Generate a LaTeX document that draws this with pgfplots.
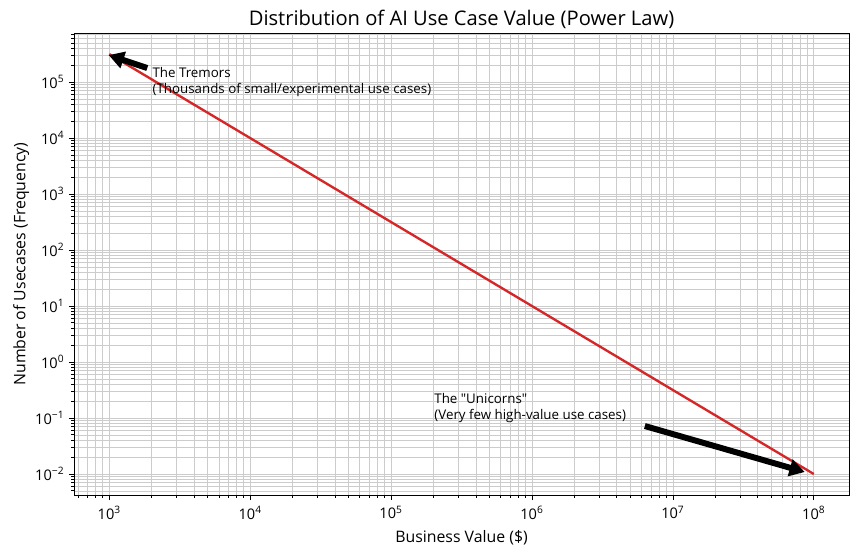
\documentclass[border=0pt]{standalone}
\usepackage{fontspec}
\setmainfont{Open Sans}[Ligatures=TeXOff]
\usepackage{pgfplots}
\pgfplotsset{compat=1.18}
\usetikzlibrary{arrows.meta}
\newcommand{\mn}{\char"2212\relax}
\newcommand{\tk}[1]{10\textsuperscript{#1}}
\begin{document}
\begin{tikzpicture}
\useasboundingbox (-53.3pt,-43.9pt) rectangle (564.46pt,356.42pt);
\begin{axis}[
  at={(0pt,0pt)}, anchor=south west,
  scale only axis, width=558pt, height=332.6pt,
  xmode=log, ymode=log,
  xmin=562.3, xmax=1.778e8,
  ymin=4.217e-3, ymax=7.499e5,
  axis line style={black, line width=0.6pt},
  tick align=outside, tick pos=left,
  major tick length=3.5pt, minor tick length=2pt,
  every tick/.style={black, line width=0.6pt},
  xtick={1e3,1e4,1e5,1e6,1e7,1e8},
  xticklabels={\tk{3},\tk{4},\tk{5},\tk{6},\tk{7},\tk{8}},
  ytick={1e-2,1e-1,1,1e1,1e2,1e3,1e4,1e5},
  yticklabels={\tk{\mn2},\tk{\mn1},\tk{0},\tk{1},\tk{2},\tk{3},\tk{4},\tk{5}},
  minor xtick={6e2,7e2,8e2,9e2,2e3,3e3,4e3,5e3,6e3,7e3,8e3,9e3,2e4,3e4,4e4,5e4,6e4,7e4,8e4,9e4,2e5,3e5,4e5,5e5,6e5,7e5,8e5,9e5,2e6,3e6,4e6,5e6,6e6,7e6,8e6,9e6,2e7,3e7,4e7,5e7,6e7,7e7,8e7,9e7},
  minor ytick={5e-3,6e-3,7e-3,8e-3,9e-3,2e-2,3e-2,4e-2,5e-2,6e-2,7e-2,8e-2,9e-2,0.2,0.3,0.4,0.5,0.6,0.7,0.8,0.9,2,3,4,5,6,7,8,9,20,30,40,50,60,70,80,90,200,300,400,500,600,700,800,900,2e3,3e3,4e3,5e3,6e3,7e3,8e3,9e3,2e4,3e4,4e4,5e4,6e4,7e4,8e4,9e4,2e5,3e5,4e5,5e5,6e5,7e5},
  grid=both,
  major grid style={black!20, line width=0.55pt},
  minor grid style={black!20, line width=0.55pt},
  ticklabel style={font=\fontsize{10.5}{12}\selectfont},
  xticklabel style={yshift=-1pt},
  label style={font=\fontsize{11.4}{13}\selectfont},
  xlabel={Business Value (\$)},
  ylabel={Number of Usecases (Frequency)},
  xlabel style={at={(axis description cs:0.5,0)}, anchor=base, yshift=-34.5pt},
  ylabel style={at={(axis description cs:-0.0680,0.5)}, anchor=center},
  title={Distribution of AI Use Case Value (Power Law)},
  title style={font=\fontsize{14.5}{17}\selectfont, at={(axis description cs:0.5,1)}, anchor=base, yshift=-0.2pt},
  clip=false,
]
\addplot[color={rgb,255:red,214;green,39;blue,40}, line width=1.7pt] coordinates {
  (1e3,316227.77) (1e4,10000) (1e5,316.228) (1e6,10) (1e7,0.316228) (1e8,0.01)
};
\draw[line width=4.3pt, -{Triangle[length=11pt,width=12pt]}] (axis cs:1.86e3,1.78e5) -- (axis cs:991,3.03e5);
\draw[line width=4.3pt, -{Triangle[length=11pt,width=12pt]}] (axis cs:6.32e6,0.072) -- (axis cs:8.63e7,0.01086);
\node[anchor=north west, align=left, inner sep=0pt, font=\fontsize{9.6}{11.2}\selectfont] at (axis cs:2.02e3,1.85e5) {The Tremors\\(Thousands of small/experimental use cases)};
\node[anchor=north west, align=left, inner sep=0pt, font=\fontsize{9.6}{11.2}\selectfont] at (axis cs:2.02e5,0.279) {The "Unicorns"\\(Very few high-value use cases)};
\end{axis}
\end{tikzpicture}
\end{document}
